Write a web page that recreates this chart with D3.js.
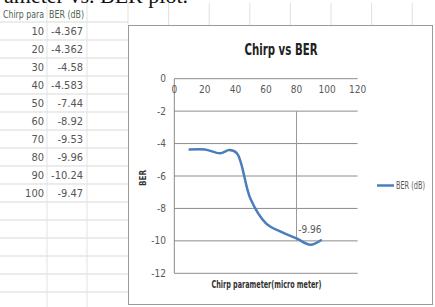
<!DOCTYPE html>
<html>
<head>
<meta charset="utf-8">
<script src="https://cdn.jsdelivr.net/npm/d3@7"></script>
<style>
  html, body { margin: 0; padding: 0; background: #fff; }
  svg { display: block; }
</style>
</head>
<body>
<svg id="c" width="435" height="307"></svg>
<script>
// ---- data ----
const tableHeaders = ["Chirp para", "BER (dB)"];
const chirpTable = [10, 20, 30, 40, 50, 60, 70, 80, 90, 100];
const berTable = [-4.367, -4.362, -4.58, -4.583, -7.44, -8.92, -9.53, -9.96, -10.24, -9.47];
// plotted (smoothed) series
const plotChirp = [10, 20, 30, 36, 41, 50, 60, 70, 80, 89, 96];
const plotBer = [-4.37, -4.36, -4.6, -4.4, -4.6, -7.44, -8.92, -9.45, -9.85, -10.24, -9.96];
const xTicks = [0, 20, 40, 60, 80, 100, 120];
const yTicks = [0, -2, -4, -6, -8, -10, -12];
const chartTitle = "Chirp vs BER";
const xTitle = "Chirp parameter(micro meter)";
const yTitle = "BER";
const legendLabel = "BER (dB)";
const dataLabel = "-9.96";
const captionText = "ameter vs. BER plot.";

const narrow = "'Liberation Sans Narrow','DejaVu Sans Condensed','Arial Narrow',sans-serif";
const svg = d3.select("#c");

// ---- spreadsheet background grid ----
const grid = svg.append("g");
const rowH = 18, headerBottom = 22;
for (let k = 0; k <= 16; k++) {
  const y = headerBottom + k * rowH;
  grid.append("line").attr("x1", 0).attr("x2", 128).attr("y1", y).attr("y2", y)
    .attr("stroke", "#d9d9d9").attr("stroke-width", 1);
}
const colXs = [47, 87];
colXs.forEach(x => grid.append("line").attr("x1", x).attr("x2", x).attr("y1", 0).attr("y2", 307)
  .attr("stroke", "#e3e3e3").attr("stroke-width", 1));
for (let k = 0; k < 8; k++) {
  const x = 128 + 40.6 * k;
  grid.append("line").attr("x1", x).attr("x2", x).attr("y1", 3).attr("y2", 25)
    .attr("stroke", "#e0e0e0").attr("stroke-width", 1);
}

// caption (cut off at top, as in the reference)
svg.append("text").attr("x", 188).attr("y", 3).attr("text-anchor", "end")
  .attr("font-family", "'Liberation Serif','DejaVu Serif',serif").attr("font-size", 22)
  .attr("fill", "#111").text(captionText);

// header
svg.append("text").attr("x", 3).attr("y", 18).attr("font-family", narrow).attr("font-size", 10)
  .attr("fill", "#4d6650").attr("textLength", 41).attr("lengthAdjust", "spacingAndGlyphs").text(tableHeaders[0]);
svg.append("text").attr("x", 49).attr("y", 18).attr("font-family", narrow).attr("font-size", 10)
  .attr("fill", "#4d6650").attr("textLength", 35).attr("lengthAdjust", "spacingAndGlyphs").text(tableHeaders[1]);

chirpTable.forEach((c, i) => {
  const y = headerBottom + i * rowH + 13;
  svg.append("text").attr("x", 44).attr("y", y).attr("text-anchor", "end")
    .attr("font-family", narrow).attr("font-size", 11).attr("fill", "#555").text(String(c));
  svg.append("text").attr("x", 83).attr("y", y).attr("text-anchor", "end")
    .attr("font-family", narrow).attr("font-size", 11).attr("fill", "#555").text(String(berTable[i]));
});

// ---- chart box ----
svg.append("rect").attr("x", 128.5).attr("y", 25.5).attr("width", 304).attr("height", 279)
  .attr("fill", "#fff").attr("stroke", "#9a9a9a").attr("stroke-width", 1);

svg.append("text").attr("x", 281).attr("y", 55).attr("text-anchor", "middle")
  .attr("font-family", narrow).attr("font-weight", "bold").attr("font-size", 15)
  .attr("fill", "#222").attr("textLength", 73).attr("lengthAdjust", "spacingAndGlyphs").text(chartTitle);

const x = d3.scaleLinear().domain([0, 120]).range([174.3, 357.6]);
const y = d3.scaleLinear().domain([-12, 0]).range([273.3, 78.7]);

// gridlines
const g = svg.append("g");
g.selectAll("line.h").data(yTicks).join("line").attr("class", "h")
  .attr("x1", x(0)).attr("x2", x(120)).attr("y1", d => y(d)).attr("y2", d => y(d))
  .attr("stroke", "#8c8c8c").attr("stroke-width", 1);
// left axis
g.append("line").attr("x1", x(0)).attr("x2", x(0)).attr("y1", y(0)).attr("y2", y(-12))
  .attr("stroke", "#8a8a8a");
// stray vertical gridline
g.append("line").attr("x1", x(80)).attr("x2", x(80)).attr("y1", y(-2)).attr("y2", y(-10))
  .attr("stroke", "#9a9a9a");

// y tick labels
g.selectAll("text.yt").data(yTicks).join("text").attr("class", "yt")
  .attr("x", 166).attr("y", d => y(d) + 3.5).attr("text-anchor", "end")
  .attr("font-family", narrow).attr("font-size", 10).attr("fill", "#595959").text(d => d);
// x tick labels
g.selectAll("text.xt").data(xTicks).join("text").attr("class", "xt")
  .attr("x", d => x(d)).attr("y", 93).attr("text-anchor", "middle")
  .attr("font-family", narrow).attr("font-size", 10).attr("fill", "#595959").text(d => d);

// axis titles
svg.append("text").attr("transform", "translate(146,178) rotate(-90)").attr("text-anchor", "middle")
  .attr("font-family", narrow).attr("font-weight", "bold").attr("font-size", 8)
  .attr("fill", "#333").text(yTitle);
svg.append("text").attr("x", 266.5).attr("y", 288).attr("text-anchor", "middle")
  .attr("font-family", narrow).attr("font-weight", "bold").attr("font-size", 10)
  .attr("fill", "#333").attr("textLength", 110).attr("lengthAdjust", "spacingAndGlyphs").text(xTitle);

// series line
const pts = plotChirp.map((c, i) => [c, plotBer[i]]);
const line = d3.line().x(d => x(d[0])).y(d => y(d[1])).curve(d3.curveCatmullRom.alpha(0.5));
svg.append("path").attr("d", line(pts)).attr("fill", "none")
  .attr("stroke", "#4a7ebb").attr("stroke-width", 2.5).attr("stroke-linecap", "round");

// data label at last point
const last = pts[pts.length - 1];
svg.append("text").attr("x", x(last[0]) - 11).attr("y", y(last[1]) - 7).attr("text-anchor", "middle")
  .attr("font-family", narrow).attr("font-size", 10).attr("fill", "#595959").text(dataLabel);

// legend
svg.append("line").attr("x1", 377).attr("x2", 394).attr("y1", 185.5).attr("y2", 185.5)
  .attr("stroke", "#4a7ebb").attr("stroke-width", 2.5);
svg.append("text").attr("x", 396).attr("y", 189).attr("font-family", narrow).attr("font-size", 10)
  .attr("fill", "#595959").attr("textLength", 29).attr("lengthAdjust", "spacingAndGlyphs").text(legendLabel);
</script>
</body>
</html>
